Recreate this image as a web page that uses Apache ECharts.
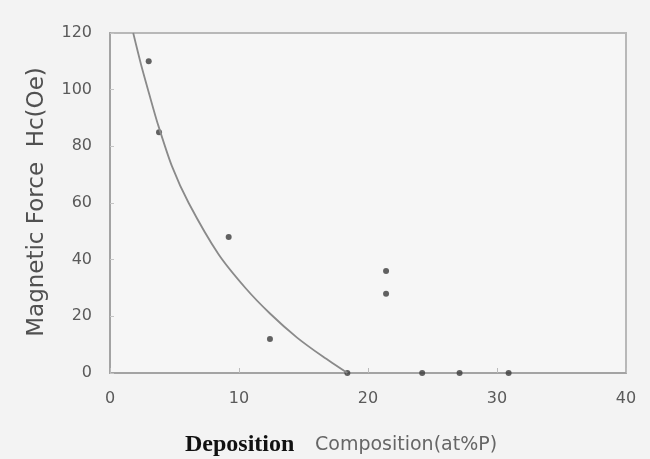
<!DOCTYPE html>
<html>
<head>
<meta charset="utf-8">
<script src="https://cdn.jsdelivr.net/npm/echarts@6/dist/echarts.min.js"></script>
<style>
  html, body { margin: 0; padding: 0; background: #f3f3f3; }
  #chart { width: 650px; height: 459px; }
</style>
</head>
<body>
<div id="chart"></div>
<script>
// measured samples (at%P, Hc)
const samplePoints = [
    [3.0, 110], [3.8, 85], [9.2, 48], [12.4, 12],
    [21.4, 36], [21.4, 28],
    [18.4, 0], [24.2, 0], [27.1, 0], [30.9, 0]
];

// fitted curve
const fitCurve = [
    [1.8, 120], [2.4, 109], [3.1, 97.5], [3.7, 88], [4.8, 73],
    [6.1, 60], [8.4, 42], [10.5, 30], [12.4, 21], [14.5, 12.5],
    [16.5, 5.8], [18.4, 0]
];

const xRange = [0, 40];
const yRange = [0, 120];

const chart = echarts.init(document.getElementById('chart'));

chart.setOption({
    backgroundColor: '#f3f3f3',
    animation: false,
    grid: {
        left: 110,
        right: 24,
        top: 33,
        bottom: 86,
        show: true,
        borderColor: '#b8b8b8',
        borderWidth: 2,
        backgroundColor: '#f6f6f6'
    },
    xAxis: {
        type: 'value',
        min: xRange[0],
        max: xRange[1],
        interval: 10,
        splitLine: { show: false },
        axisLine: { lineStyle: { color: '#a3a3a3', width: 2 } },
        axisTick: { inside: true, length: 5, lineStyle: { color: '#bbb' } },
        axisLabel: { color: '#5a5a5a', fontFamily: 'DejaVu Sans', fontSize: 16, margin: 18 }
    },
    yAxis: {
        type: 'value',
        min: yRange[0],
        max: yRange[1],
        interval: 20,
        splitLine: { show: false },
        axisLine: { show: true, lineStyle: { color: '#a3a3a3', width: 2 } },
        axisTick: { show: true, inside: true, length: 4, lineStyle: { color: '#c4c4c4' } },
        axisLabel: { color: '#5a5a5a', fontFamily: 'DejaVu Sans', fontSize: 16, margin: 18 }
    },
    graphic: [
        {
            type: 'text',
            x: 37,
            y: 202,
            rotation: Math.PI / 2,
            style: {
                text: 'Magnetic Force  Hc(Oe)',
                fill: '#505050',
                font: '23px "DejaVu Sans"',
                textAlign: 'center',
                textVerticalAlign: 'middle'
            }
        },
        {
            type: 'text',
            x: 185,
            y: 445,
            style: {
                text: 'Deposition',
                fill: '#111',
                font: 'bold 24px "Liberation Serif"',
                textAlign: 'left',
                textVerticalAlign: 'middle'
            }
        },
        {
            type: 'text',
            x: 315,
            y: 445,
            style: {
                text: 'Composition(at%P)',
                fill: '#666',
                font: '19px "DejaVu Sans"',
                textAlign: 'left',
                textVerticalAlign: 'middle'
            }
        }
    ],
    series: [
        {
            type: 'line',
            data: fitCurve,
            smooth: 0.25,
            symbol: 'none',
            lineStyle: { color: '#8a8a8a', width: 1.8 }
        },
        {
            type: 'scatter',
            data: samplePoints,
            symbol: 'circle',
            symbolSize: 6,
            itemStyle: { color: '#3c3c3c' }
        }
    ]
});
</script>
</body>
</html>
